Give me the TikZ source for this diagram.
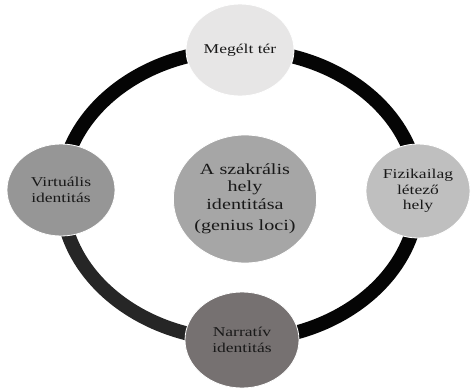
\documentclass[tikz,border=0pt]{standalone}
\usepackage{fontspec}
\setmainfont{Liberation Serif}[FakeStretch=1.3]
\usetikzlibrary{shapes.geometric,backgrounds}
\definecolor{cTop}{HTML}{E7E6E6}
\definecolor{cRight}{HTML}{BFBFBF}
\definecolor{cBottom}{HTML}{767171}
\definecolor{cLeft}{HTML}{969696}
\definecolor{cCenter}{HTML}{A6A6A6}
\definecolor{ringA}{HTML}{050505}
\definecolor{ringB}{HTML}{262626}
\tikzset{
  bubble/.style={ellipse, draw=white, line width=0.8pt, inner sep=0pt, align=center,
    font=\fontsize{13.5}{15.5}\selectfont, text=black!90},
  ring/.style={line width=14pt, line cap=butt},
}
\begin{document}
\begin{tikzpicture}[x=1pt,y=-1pt]
\useasboundingbox (0,0) rectangle (475,389);
\node[bubble, fill=cTop, minimum width=108pt, minimum height=92pt] (top) at (240,50) {Megélt tér};
\node[bubble, fill=cRight, minimum width=104pt, minimum height=94pt] (right) at (418,191) {Fizikailag\\létező\\hely};
\node[bubble, fill=cBottom, minimum width=114pt, minimum height=96pt] (bottom) at (242,340) {Narratív\\identitás};
\node[bubble, fill=cLeft, minimum width=108pt, minimum height=92pt] (left) at (61,190) {Virtuális\\identitás};
\node[bubble, fill=cCenter, minimum width=140pt, minimum height=128pt, font=\fontsize{15.5}{17.5}\selectfont] (center) at (245,199) {A szakrális\\hely\\identitása\\[4pt](genius loci)};
\begin{pgfonlayer}{background}
\draw[ring, ringA] (top.center) arc[start angle=-90, end angle=0, x radius=178.5, y radius=145];
\draw[ring, ringA] (right.center) ++(0,4) arc[start angle=0, end angle=90, x radius=178.5, y radius=145];
\draw[ring, ringB] (bottom.center) ++(-2,0) arc[start angle=90, end angle=180, x radius=178.5, y radius=145];
\draw[ring, ringA] (left.center) ++(0,5) arc[start angle=180, end angle=270, x radius=178.5, y radius=145];
\end{pgfonlayer}
\end{tikzpicture}
\end{document}
